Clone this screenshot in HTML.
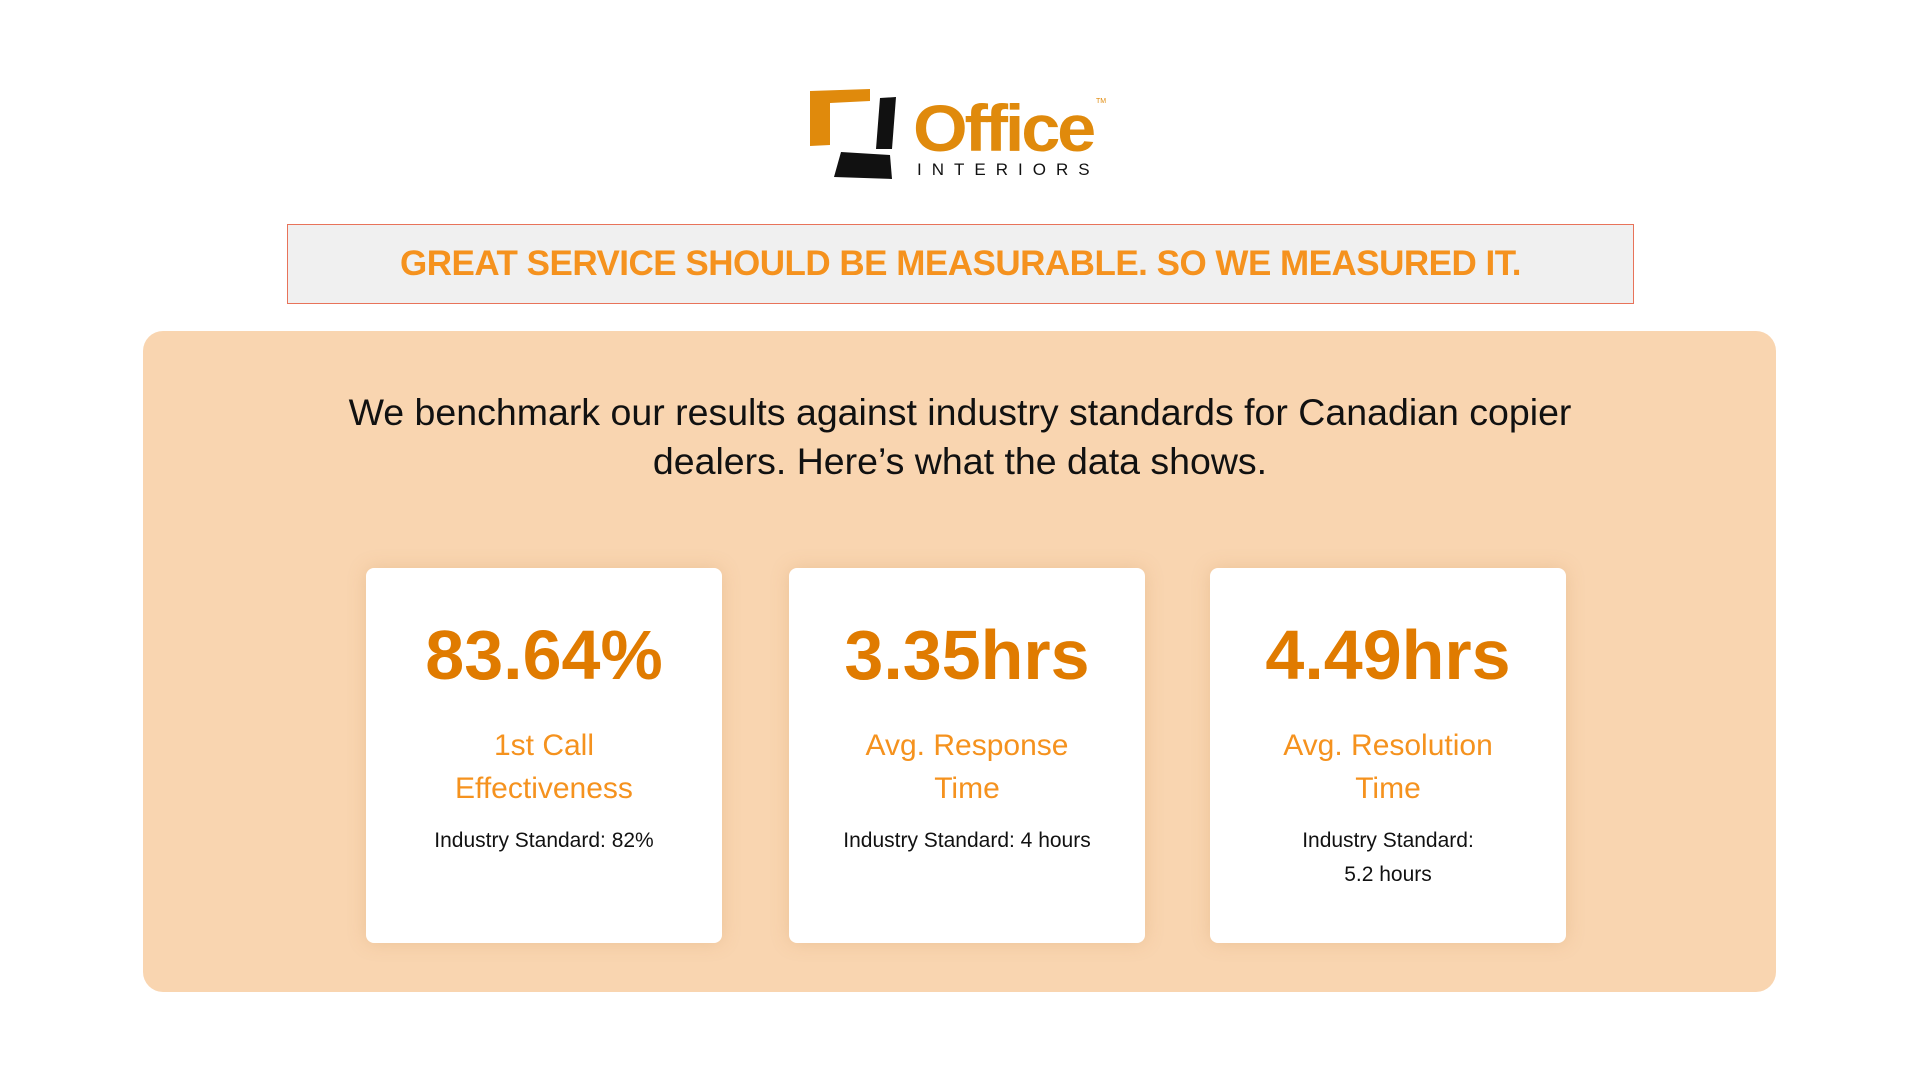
<!DOCTYPE html>
<html><head><meta charset="utf-8"><style>
body{margin:0;width:1920px;height:1080px;background:#fff;font-family:"Liberation Sans",sans-serif;position:relative;overflow:hidden}
.abs{position:absolute}
.banner{left:287px;top:224px;width:1345px;height:78px;background:#f0f0f0;border:1px solid #e8735a;display:flex;align-items:center;justify-content:center;color:#f5921e;font-weight:bold;font-size:35px;letter-spacing:-0.5px}
.panel{left:143px;top:331px;width:1633px;height:661px;background:#f9d5b0;border-radius:20px}
.intro{left:260px;width:1400px;top:388px;text-align:center;font-size:37.5px;line-height:49px;color:#111}
.card{top:568px;width:356px;height:375px;background:#fff;border-radius:8px;box-shadow:0 0 18px rgba(200,140,80,.25);text-align:center}
.big{margin-top:46px;font-size:70px;font-weight:bold;color:#e07b00;line-height:82px}
.lab{margin-top:28px;font-size:30px;color:#f5921e;line-height:43px}
.std{margin-top:14px;font-size:21px;color:#111;line-height:34px}
</style></head><body>
<svg class="abs" style="left:808px;top:89px" width="300" height="92" viewBox="0 0 300 92">
<polygon points="2,2 62,0 62,12 22,14 22,56 2,57" fill="#e08a0c"/>
<polygon points="72,9 88,8 84,60 68,60" fill="#111"/>
<polygon points="33,63 82,66 84,90 26,88" fill="#111"/>
<text x="105" y="62" font-family="Liberation Sans" font-weight="bold" font-size="66" fill="#e08a0c" letter-spacing="-3" textLength="180" lengthAdjust="spacingAndGlyphs">Office</text>
<text x="109" y="86" font-family="Liberation Sans" font-size="17" fill="#111" letter-spacing="10">INTERIORS</text>
<text x="288" y="14" font-family="Liberation Sans" font-size="7" fill="#e08a0c">TM</text>
</svg>
<div class="abs banner">GREAT SERVICE SHOULD BE MEASURABLE. SO WE MEASURED IT.</div>
<div class="abs panel"></div>
<div class="abs intro">We benchmark our results against industry standards for Canadian copier<br>dealers. Here’s what the data shows.</div>
<div class="abs card" style="left:366px"><div class="big">83.64%</div><div class="lab">1st Call<br>Effectiveness</div><div class="std">Industry Standard: 82%</div></div>
<div class="abs card" style="left:789px"><div class="big">3.35hrs</div><div class="lab">Avg. Response<br>Time</div><div class="std">Industry Standard: 4 hours</div></div>
<div class="abs card" style="left:1210px"><div class="big">4.49hrs</div><div class="lab">Avg. Resolution<br>Time</div><div class="std">Industry Standard:<br>5.2 hours</div></div>
</body></html>
